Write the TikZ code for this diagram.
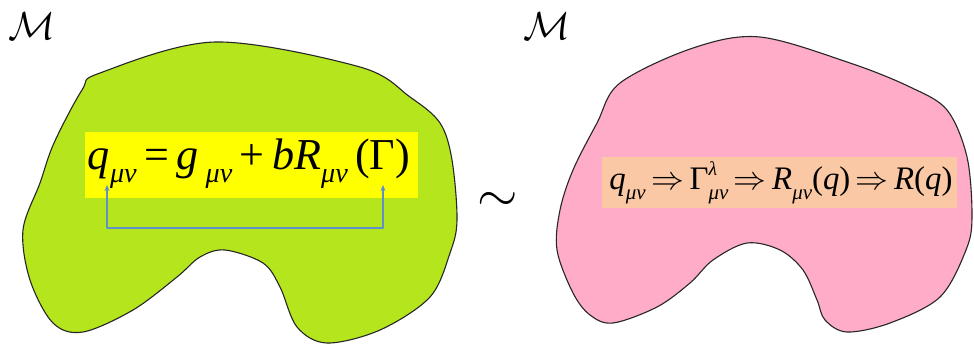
\documentclass[tikz,border=0pt]{standalone}
\usepackage{fontspec}
\usepackage{graphicx}
\usetikzlibrary{arrows.meta}
\newfontfamily\eqfont{Liberation Serif}
\definecolor{limegreen}{RGB}{181,230,29}
\definecolor{boxyellow}{RGB}{255,255,0}
\definecolor{rosepink}{RGB}{255,172,200}
\definecolor{peach}{RGB}{250,200,165}
\definecolor{linkblue}{RGB}{95,145,200}
\newcommand{\sbs}[1]{\raisebox{-3pt}{\fontsize{6.4}{7}\selectfont\itshape #1}}
\newcommand{\sps}[1]{\raisebox{4.2pt}{\fontsize{6}{7}\selectfont\itshape #1}}
\tikzset{
    lab/.style={
        inner sep=0pt
    }
}

\begin{document}
\begin{tikzpicture}[x=1pt,y=-1pt, line cap=round, line join=round]

\tikzset{
  blob/.style={draw=black!85, line width=1.1pt},
  eqbox/.style={inner sep=0pt, font=\eqfont},
  link/.style={draw=linkblue, line width=1.6pt},
}

\useasboundingbox (0,0) rectangle (974,349);

% left manifold
\draw[blob, fill=limegreen] plot[smooth cycle, tension=0.55] coordinates {
  (100,73) (215,42) (360,67) (410,97) (440,123) (452,160) (457,220)
  (450,253) (430,297) (380,330) (327,343) (297,327) (280,287) (263,263)
  (225,250) (200,257) (177,277) (133,310) (83,332) (53,323) (30,280)
  (23,230) (40,183) (54,143) (82,90)};

% right manifold
\draw[blob, fill=rosepink] plot[smooth cycle, tension=0.55] coordinates {
  (620,83) (693,48) (760,37) (850,63) (910,87) (947,110) (967,157)
  (972,217) (966,250) (940,297) (890,323) (847,332) (825,320) (817,300)
  (803,270) (780,250) (747,243) (713,260) (690,283) (657,307) (613,323)
  (590,315) (573,293) (557,250) (560,210) (573,170) (597,123)};

% formula boxes
\node[eqbox, fill=boxyellow, minimum width=333pt, minimum height=66pt] (lhs) at (251.5,165) {};
\node[eqbox] (lhstext) at (249,164) {\resizebox{322pt}{!}{\itshape
  q\sbs{μν}\,{\upshape =}\,g\,\sbs{μν}\,{\upshape +}\,bR\sbs{μν}\,{\upshape (Γ)}}};

\node[eqbox, fill=peach, minimum width=355pt, minimum height=51pt] (rhs) at (779.5,182.5) {};
\node[eqbox] (rhstext) at (781,183) {\resizebox{343pt}{!}{\itshape
  q\sbs{μν}\,$\Rightarrow$\,{\upshape Γ}\rlap{\sps{λ}}\sbs{μν}\,$\Rightarrow$\,R\sbs{μν}{\upshape (}q{\upshape )}\,$\Rightarrow$\,R{\upshape (}q{\upshape )}}};

% link under the formula
\coordinate (qtip) at (107,185);
\coordinate (qfoot) at (107,228);
\coordinate (gtip) at (383,185);
\coordinate (gfoot) at (383,228);
\draw[link, {Stealth[length=6pt,width=5pt]}-{Stealth[length=6pt,width=5pt]}]
  (qtip) -- (qfoot) -- (gfoot) -- (gtip);

% labels
\node[lab] (mleft) at (32,26) {\scalebox{3.9}{$\mathcal{M}$}};
\node[lab] (mright) at (547,26) {\scalebox{3.9}{$\mathcal{M}$}};
\node[lab] (sim) at (498,202) {\scalebox{5.2}{$\sim$}};

\end{tikzpicture}
\end{document}
